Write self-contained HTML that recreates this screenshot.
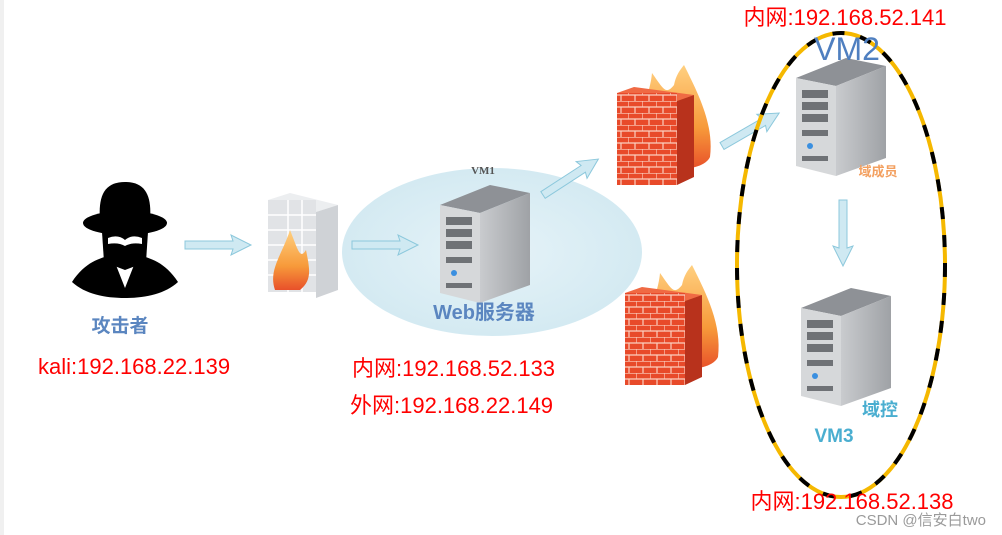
<!DOCTYPE html>
<html><head><meta charset="utf-8"><style>
html,body{margin:0;padding:0;background:#fff;}
svg{display:block}
</style></head><body>
<svg width="1002" height="535" viewBox="0 0 1002 535" xmlns="http://www.w3.org/2000/svg">
<defs>
 <linearGradient id="sv" x1="0" x2="1"><stop offset="0" stop-color="#c9cbce"/><stop offset="1" stop-color="#9fa2a6"/></linearGradient>
 <linearGradient id="fl" x1="0" y1="0" x2="0" y2="1"><stop offset="0" stop-color="#ffd080"/><stop offset="0.6" stop-color="#f79a3a"/><stop offset="1" stop-color="#e8502a"/></linearGradient>
 <radialGradient id="web" cx="0.5" cy="0.5" r="0.5"><stop offset="0" stop-color="#e6f3f8"/><stop offset="1" stop-color="#d4eaf2"/></radialGradient>
 <pattern id="brick" width="14" height="12" patternUnits="userSpaceOnUse">
  <rect width="14" height="12" fill="#e84a2a"/>
  <path d="M0 0H14M0 6H14M0 0V6M7 6V12" stroke="#fbd0c0" stroke-width="1.2" fill="none"/>
 </pattern>
 <g id="srv">
  <polygon points="0,20 50,0 90,8 40,28" fill="#8e9196"/>
  <polygon points="40,28 90,8 90,100 40,118" fill="url(#sv)"/>
  <polygon points="0,20 40,28 40,118 0,108" fill="#d6d8da"/>
  <rect x="6" y="32" width="26" height="8" fill="#6f7276"/>
  <rect x="6" y="44" width="26" height="8" fill="#6f7276"/>
  <rect x="6" y="56" width="26" height="8" fill="#6f7276"/>
  <rect x="6" y="72" width="26" height="6" fill="#6f7276"/>
  <circle cx="14" cy="88" r="3" fill="#3a8fe0"/>
  <rect x="6" y="98" width="26" height="5" fill="#6f7276"/>
 </g>
 <g id="fw">
  <path d="M20 100 C15 60 35 40 38 8 C50 25 52 30 60 20 C62 10 66 5 70 0 C85 30 100 60 96 92 C90 105 60 108 20 100 Z" fill="url(#fl)"/>
  <polygon points="3,28 20,22 80,30 63,36" fill="#f06a44"/>
  <rect x="3" y="28" width="60" height="92" fill="url(#brick)"/>
  <polygon points="63,36 80,30 80,112 63,120" fill="#b8321c"/>
 </g>
 <polygon id="arr" points="0,-4 48,-4 46,-10 66,0 46,10 48,4 0,4" fill="#cfe9f2" stroke="#8cc8dc" stroke-width="1"/>
</defs>
<rect x="0" y="0" width="4" height="535" fill="#f0f0f0"/>

<!-- Hacker -->
<g fill="#000">
 <ellipse cx="125" cy="223" rx="42" ry="12"/>
 <path d="M100 220 C98 195 105 182 125 182 C145 182 152 195 150 220 Z"/>
 <path d="M102 232 H148 L146 262 L125 270 L104 262 Z"/>
 <path d="M72 282 C85 262 100 258 112 255 L125 288 L138 255 C150 258 165 262 178 282 C165 294 145 298 125 298 C105 298 85 294 72 282 Z"/>
</g>
<path d="M108 238 Q118 234 125 240 Q132 234 142 238 L142 244 Q132 242 125 246 Q118 242 108 244Z" fill="#fff"/>
<text x="120" y="332" font-family="Liberation Sans, Noto Sans CJK SC, sans-serif" font-size="19" font-weight="bold" fill="#5b86c0" text-anchor="middle">攻击者</text>
<text x="38" y="374" font-family="Liberation Sans, Noto Sans CJK SC, sans-serif" font-size="22" fill="#f00">kali:192.168.22.139</text>

<use href="#arr" x="185" y="245"/>

<!-- gray firewall -->
<g>
 <polygon points="268,200 290,193 338,205 316,212" fill="#eceef0"/>
 <rect x="268" y="200" width="48" height="92" fill="#e1e3e6"/>
 <path d="M268 215H316M268 230H316M268 245H316M268 260H316M268 275H316M288 200V292M302 200V292" stroke="#fff" stroke-width="1.5"/>
 <polygon points="316,212 338,205 338,290 316,298" fill="#cfd2d6"/>
 <path d="M275 290 C268 270 282 255 290 230 C298 250 300 260 306 250 C310 270 312 280 300 290 Z" fill="url(#fl)"/>
</g>

<!-- Web ellipse -->
<ellipse cx="492" cy="252" rx="150" ry="84" fill="url(#web)"/>
<text x="483" y="174" font-family="Liberation Serif, serif" font-size="11" font-weight="bold" fill="#555" text-anchor="middle">VM1</text>
<use href="#arr" x="352" y="245"/>
<use href="#srv" x="440" y="185"/>
<text x="484" y="319" font-family="Liberation Sans, Noto Sans CJK SC, sans-serif" font-size="20" font-weight="bold" fill="#5b86c0" text-anchor="middle">Web服务器</text>
<text x="352" y="376" font-family="Liberation Sans, Noto Sans CJK SC, sans-serif" font-size="22" fill="#f00">内网:192.168.52.133</text>
<text x="350" y="413" font-family="Liberation Sans, Noto Sans CJK SC, sans-serif" font-size="22" fill="#f00">外网:192.168.22.149</text>

<use href="#arr" transform="translate(543,195) rotate(-33)"/>
<use href="#fw" x="614" y="65"/>
<use href="#fw" x="622" y="265"/>
<use href="#arr" transform="translate(722,146) rotate(-30)"/>

<!-- Domain ellipse -->
<ellipse cx="841" cy="265" rx="104" ry="232" fill="none" stroke="#f5b800" stroke-width="4"/>
<ellipse cx="841" cy="265" rx="104" ry="232" fill="none" stroke="#000" stroke-width="4" stroke-dasharray="12 16"/>

<use href="#srv" x="796" y="58"/>
<use href="#srv" x="801" y="288"/>
<use href="#arr" transform="translate(843,200) rotate(90)"/>

<text x="845" y="25" font-family="Liberation Sans, Noto Sans CJK SC, sans-serif" font-size="22" fill="#f00" text-anchor="middle">内网:192.168.52.141</text>
<text x="847" y="60" font-family="Liberation Sans, sans-serif" font-size="32" fill="#4f7fc0" text-anchor="middle">VM2</text>
<text x="878" y="176" font-family="Liberation Sans, Noto Sans CJK SC, sans-serif" font-size="13" font-weight="bold" fill="#f3a060" text-anchor="middle">域成员</text>
<text x="880" y="416" font-family="Liberation Sans, Noto Sans CJK SC, sans-serif" font-size="18" font-weight="bold" fill="#4aaed0" text-anchor="middle">域控</text>
<text x="834" y="442" font-family="Liberation Sans, sans-serif" font-size="19" font-weight="bold" fill="#4aaed0" text-anchor="middle">VM3</text>
<text x="852" y="509" font-family="Liberation Sans, Noto Sans CJK SC, sans-serif" font-size="22" fill="#f00" text-anchor="middle">内网:192.168.52.138</text>
<text x="986" y="525" font-family="Liberation Sans, Noto Sans CJK SC, sans-serif" font-size="15" fill="#9a9a9a" text-anchor="end">CSDN @信安白two</text>
</svg>
</body></html>
